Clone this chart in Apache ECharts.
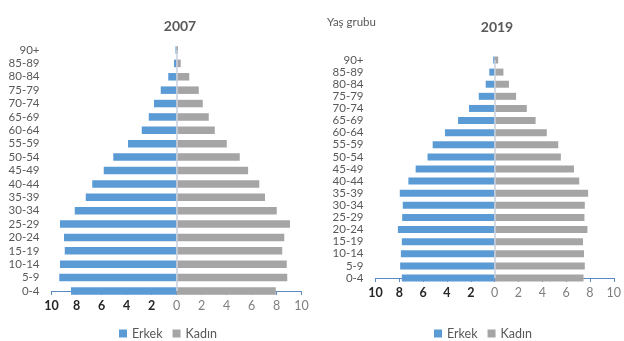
<!DOCTYPE html>
<html>
<head>
<meta charset="utf-8">
<script src="https://cdn.jsdelivr.net/npm/echarts@6/dist/echarts.min.js"></script>
<style>
  html, body { margin: 0; padding: 0; background: #fff; }
  #chart { width: 624px; height: 341px; }
</style>
</head>
<body>
<div id="chart"></div>
<script>
// age groups, bottom (0-4) to top (90+)
var ageGroups = ['0-4', '5-9', '10-14', '15-19', '20-24', '25-29', '30-34', '35-39', '40-44',
  '45-49', '50-54', '55-59', '60-64', '65-69', '70-74', '75-79', '80-84', '85-89', '90+'];

// percent of population, 2007
var male2007 = [8.44, 9.38, 9.32, 8.94, 9.0, 9.32, 8.14, 7.26, 6.74, 5.82, 5.06, 3.88, 2.78, 2.22, 1.8, 1.26, 0.66, 0.2, 0.08];
var female2007 = [7.94, 8.86, 8.82, 8.46, 8.62, 9.08, 8.02, 7.08, 6.62, 5.73, 5.06, 4.02, 3.06, 2.58, 2.1, 1.78, 1.02, 0.34, 0.12];

// percent of population, 2019
var male2019 = [7.79, 7.93, 7.87, 7.79, 8.12, 7.76, 7.71, 7.96, 7.24, 6.63, 5.63, 5.2, 4.17, 3.07, 2.15, 1.33, 0.75, 0.45, 0.12];
var female2019 = [7.46, 7.57, 7.5, 7.42, 7.79, 7.54, 7.57, 7.85, 7.1, 6.66, 5.56, 5.34, 4.38, 3.44, 2.7, 1.8, 1.2, 0.74, 0.3];

var titles = ['2007', '2019'];
var seriesNames = ['Erkek', 'Kadın'];

var FONT = 'Lato';
var BLUE = '#5b9bd5';
var GRAY = '#a5a5a5';

function neg(arr) {
  return arr.map(function (v) { return -v; });
}

function valueAxis(idx) {
  return {
    type: 'value',
    gridIndex: idx,
    min: -10,
    max: 10,
    interval: 2,
    splitLine: { show: false },
    axisLine: { show: true, lineStyle: { color: '#5b8ac4', width: 1.2 } },
    axisTick: { show: true, length: 4, lineStyle: { color: '#5b8ac4' } },
    axisLabel: {
      margin: 8,
      formatter: function (v) {
        return v < 0 ? '{b|' + (-v) + '}' : '{n|' + v + '}';
      },
      rich: {
        b: { fontFamily: FONT, fontSize: 12.5, fontWeight: 'bold', color: '#262626' },
        n: { fontFamily: FONT, fontSize: 12.5, color: '#7f7f7f' }
      }
    }
  };
}

function catAxis(idx) {
  return {
    type: 'category',
    gridIndex: idx,
    data: ageGroups,
    boundaryGap: false,
    axisLine: { show: false, onZero: false },
    axisTick: { show: false },
    axisLabel: { interval: 0, margin: 12, fontFamily: FONT, fontSize: 11.5, color: '#595959' }
  };
}

function barSeries(name, data, color, idx, width, withLine) {
  var s = {
    name: name,
    type: 'bar',
    xAxisIndex: idx,
    yAxisIndex: idx,
    data: data,
    barWidth: width,
    barGap: '-100%',
    clip: true,
    itemStyle: { color: color },
    emphasis: { disabled: true }
  };
  if (withLine) {
    s.markLine = {
      silent: true,
      symbol: 'none',
      label: { show: false },
      lineStyle: { color: '#c8d1dc', type: 'solid', width: 1.5 },
      data: [{ xAxis: 0 }]
    };
  }
  return s;
}

var chart = echarts.init(document.getElementById('chart'));

var legendStyle = { fontFamily: FONT, fontSize: 12.5, color: '#595959' };

var option = {
  animation: false,
  textStyle: { fontFamily: FONT },
  title: [
    { text: titles[0], left: 175, top: 14, textAlign: 'center',
      textStyle: { fontFamily: FONT, fontSize: 14, fontWeight: 'bold', color: '#595959' } },
    { text: titles[1], left: 492, top: 15, textAlign: 'center',
      textStyle: { fontFamily: FONT, fontSize: 14, fontWeight: 'bold', color: '#595959' } },
    { text: 'Yaş grubu', left: 322, top: 11,
      textStyle: { fontFamily: FONT, fontSize: 11.5, fontWeight: 'normal', color: '#595959' } }
  ],
  legend: [
    { data: seriesNames, left: 119, top: 327, padding: 0, icon: 'rect', itemWidth: 8, itemHeight: 8,
      itemGap: 10, textStyle: legendStyle },
    { data: seriesNames, left: 434, top: 327, padding: 0, icon: 'rect', itemWidth: 8, itemHeight: 8,
      itemGap: 10, textStyle: legendStyle }
  ],
  grid: [
    { left: 51.5, right: 322.5, top: 50, height: 241 },
    { left: 375.5, right: 7.3, top: 60, height: 218 }
  ],
  xAxis: [valueAxis(0), valueAxis(1)],
  yAxis: [catAxis(0), catAxis(1)],
  series: [
    barSeries(seriesNames[0], neg(male2007), BLUE, 0, 7.5, true),
    barSeries(seriesNames[1], female2007, GRAY, 0, 7.5, false),
    barSeries(seriesNames[0], neg(male2019), BLUE, 1, 7, true),
    barSeries(seriesNames[1], female2019, GRAY, 1, 7, false)
  ]
};

chart.setOption(option);
</script>
</body>
</html>
